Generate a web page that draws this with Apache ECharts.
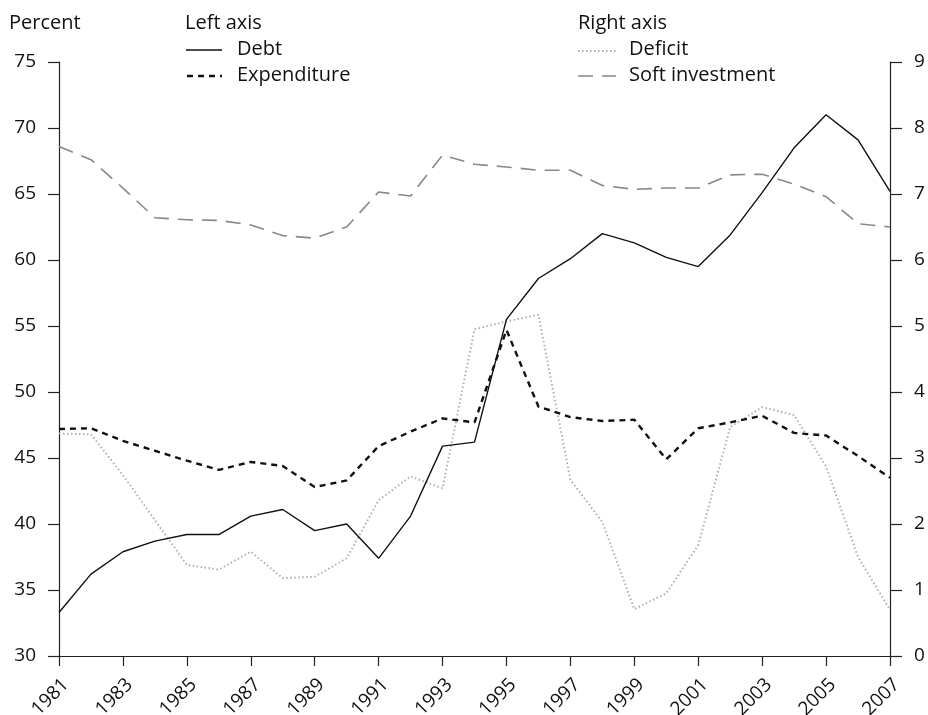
<!DOCTYPE html>
<html><head><meta charset="utf-8">
<script src="https://cdn.jsdelivr.net/npm/echarts@6/dist/echarts.min.js"></script>
<style>html,body{margin:0;padding:0;background:#fff}#c{width:928px;height:715px}</style>
</head><body><div id="c"></div>
<script>
const years = ['1981','1982','1983','1984','1985','1986','1987','1988','1989','1990','1991','1992','1993','1994','1995','1996','1997','1998','1999','2000','2001','2002','2003','2004','2005','2006','2007'];
const debt = [33.3,36.2,37.9,38.7,39.2,39.2,40.6,41.1,39.5,40.0,37.4,40.6,45.9,46.2,55.5,58.6,60.1,62.0,61.3,60.2,59.5,61.9,65.1,68.5,71.0,69.1,65.2];
const expenditure = [47.2,47.25,46.3,45.55,44.8,44.1,44.7,44.4,42.8,43.3,45.9,47.0,48.0,47.7,54.7,48.9,48.1,47.8,47.9,44.9,47.25,47.7,48.2,46.9,46.7,45.15,43.5];
const deficit = [3.37,3.36,2.74,2.06,1.38,1.31,1.58,1.18,1.20,1.48,2.36,2.72,2.54,4.95,5.07,5.17,2.67,2.03,0.71,0.95,1.68,3.47,3.77,3.65,2.87,1.50,0.70];
const softInvestment = [7.72,7.52,7.09,6.64,6.61,6.60,6.53,6.37,6.33,6.50,7.03,6.97,7.59,7.45,7.41,7.36,7.36,7.13,7.07,7.09,7.09,7.29,7.30,7.15,6.96,6.55,6.50];

const FONT = 'Open Sans';
const FS = 19;
const LFS = 20;
const STY = {
  debt:{color:'#111',width:1.4,type:'solid'},
  exp:{color:'#111',width:2.4,type:[6,5]},
  def:{color:'#b0b0b0',width:2,type:[1.5,2.5]},
  soft:{color:'#888',width:1.6,type:[15,9]}
};
const chart = echarts.init(document.getElementById('c'));
const axisCommon = {
  axisLine:{show:true,lineStyle:{color:'#222',width:1.2}},
  axisTick:{show:true,inside:false,length:11,lineStyle:{color:'#222',width:1.2}},
  axisLabel:{color:'#111',fontFamily:FONT,fontSize:FS,margin:23},
  splitLine:{show:false}
};
function txt(x,y,s){return {type:'text',x:x,y:y,style:{text:s,font:LFS+'px "Open Sans"',fill:'#111',textVerticalAlign:'middle',verticalAlign:'middle'}};}
function seg(x1,x2,y,st){return {type:'line',shape:{x1:x1,y1:y,x2:x2,y2:y},style:{stroke:st.color,lineWidth:st.width,lineDash:st.type==='solid'?null:st.type}};}
chart.setOption({
  animation:false,
  backgroundColor:'#fff',
  textStyle:{fontFamily:FONT},
  grid:{left:59,right:38,top:62,bottom:59,containLabel:false,outerBoundsMode:'none'},
  graphic:[
    txt(9,23,'Percent'),
    txt(185,23,'Left axis'),
    seg(186,222,50,STY.debt), txt(237,49,'Debt'),
    seg(187,222,76,STY.exp), txt(237,75,'Expenditure'),
    txt(578,23,'Right axis'),
    seg(578,616,51,STY.def), txt(629,49,'Deficit'),
    seg(578,616,76,STY.soft), txt(629,75,'Soft investment')
  ],
  xAxis:Object.assign({},axisCommon,{
    type:'category',data:years,boundaryGap:false,
    axisTick:Object.assign({},axisCommon.axisTick,{interval:1,length:10}),
    axisLabel:Object.assign({},axisCommon.axisLabel,{interval:1,rotate:45,margin:19,verticalAlign:'top'})
  }),
  yAxis:[
    Object.assign({},axisCommon,{type:'value',min:30,max:75,interval:5,position:'left'}),
    Object.assign({},axisCommon,{type:'value',min:0,max:9,interval:1,position:'right',
      axisTick:Object.assign({},axisCommon.axisTick,{length:12}),
      axisLabel:Object.assign({},axisCommon.axisLabel,{margin:24})})
  ],
  series:[
    {name:'Debt',type:'line',data:debt,yAxisIndex:0,symbol:'none',lineStyle:STY.debt,z:5},
    {name:'Expenditure',type:'line',data:expenditure,yAxisIndex:0,symbol:'none',lineStyle:STY.exp,z:4},
    {name:'Deficit',type:'line',data:deficit,yAxisIndex:1,symbol:'none',lineStyle:STY.def,z:2},
    {name:'Soft investment',type:'line',data:softInvestment,yAxisIndex:1,symbol:'none',lineStyle:STY.soft,z:3}
  ]
});
</script></body></html>
